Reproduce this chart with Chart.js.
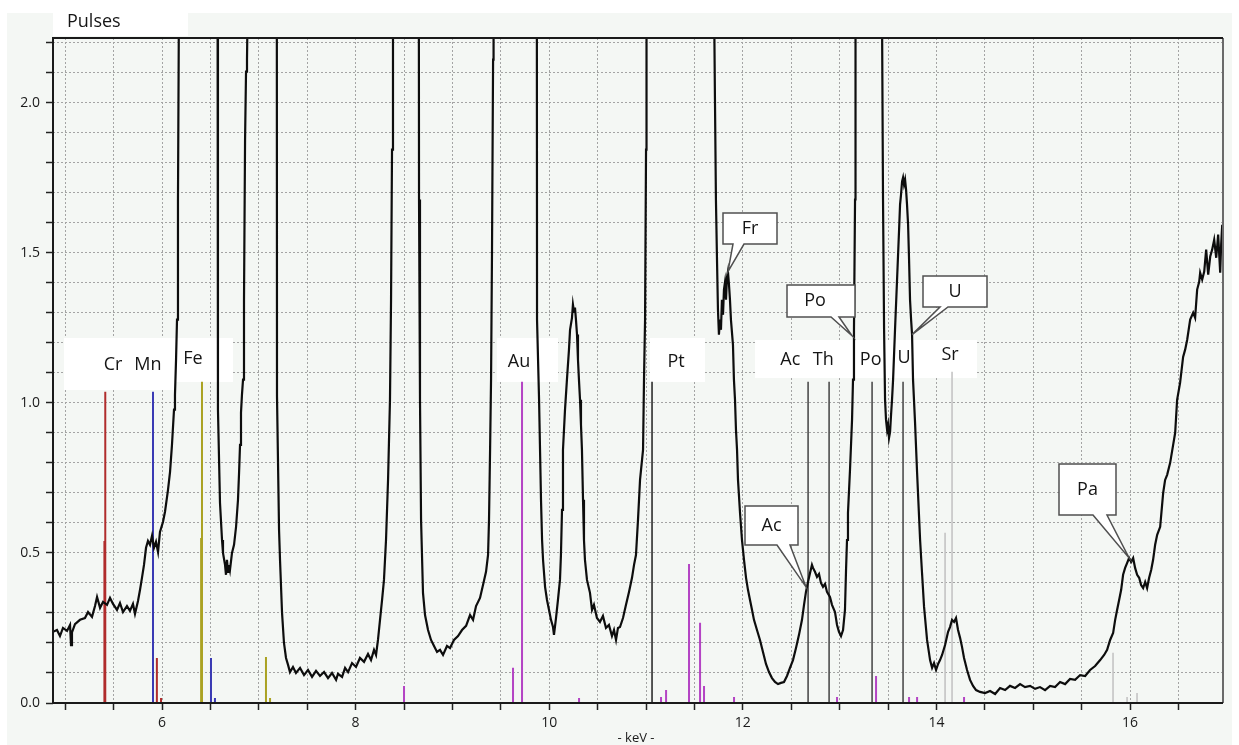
<!DOCTYPE html>
<html>
<head>
<meta charset="utf-8">
<script src="https://cdn.jsdelivr.net/npm/chart.js@4.4.1/dist/chart.umd.min.js"></script>
<style>
html,body{margin:0;padding:0;background:#fff;}
#wrap{width:1239px;height:745px;}
</style>
</head>
<body>
<div id="wrap"><canvas id="c" width="1239" height="745"></canvas></div>
<script>
// ---------- DATA ----------
const spectrumKeV = [4.874,4.915,4.946,4.977,5.019,5.050,5.060,5.070,5.101,5.153,5.204,5.236,5.277,5.308,5.329,5.360,5.391,5.432,5.463,5.494,5.535,5.566,5.597,5.638,5.669,5.700,5.721,5.752,5.773,5.793,5.814,5.835,5.855,5.876,5.897,5.917,5.938,5.959,5.979,6.010,6.031,6.062,6.083,6.103,6.124,6.134,6.145,6.155,6.165,6.176,6.40,6.574,6.578,6.599,6.620,6.630,6.651,6.661,6.671,6.682,6.692,6.702,6.723,6.744,6.765,6.785,6.796,6.806,6.816,6.826,6.837,6.847,6.858,6.868,6.878,6.888,7.06,7.186,7.188,7.209,7.219,7.240,7.260,7.281,7.302,7.322,7.353,7.384,7.426,7.467,7.508,7.550,7.591,7.632,7.674,7.715,7.756,7.798,7.818,7.860,7.891,7.922,7.963,8.004,8.045,8.087,8.128,8.159,8.190,8.211,8.231,8.252,8.273,8.293,8.314,8.335,8.355,8.366,8.376,8.386,8.52,8.653,8.655,8.665,8.676,8.696,8.717,8.748,8.779,8.810,8.841,8.872,8.903,8.944,8.975,9.016,9.058,9.099,9.141,9.182,9.213,9.244,9.285,9.316,9.347,9.368,9.378,9.389,9.399,9.409,9.420,9.425,9.70,9.872,9.874,9.895,9.905,9.915,9.926,9.936,9.957,9.977,9.998,10.018,10.039,10.049,10.070,10.090,10.111,10.121,10.132,10.142,10.163,10.183,10.204,10.215,10.235,10.245,10.256,10.266,10.276,10.287,10.297,10.307,10.318,10.328,10.338,10.349,10.359,10.369,10.390,10.421,10.442,10.462,10.493,10.524,10.555,10.586,10.617,10.648,10.669,10.690,10.710,10.731,10.762,10.793,10.824,10.855,10.876,10.896,10.917,10.938,10.969,10.979,10.990,11.000,11.005,11.35,11.701,11.712,11.722,11.733,11.743,11.753,11.764,11.774,11.784,11.795,11.805,11.815,11.826,11.836,11.846,11.857,11.867,11.877,11.898,11.908,11.919,11.929,11.940,11.950,11.971,11.991,12.012,12.033,12.053,12.074,12.095,12.115,12.146,12.177,12.208,12.239,12.270,12.301,12.332,12.363,12.394,12.425,12.456,12.487,12.518,12.549,12.580,12.611,12.632,12.652,12.673,12.694,12.714,12.725,12.745,12.766,12.787,12.807,12.828,12.849,12.869,12.900,12.921,12.952,12.973,12.993,13.014,13.035,13.055,13.066,13.076,13.086,13.107,13.128,13.138,13.148,13.159,13.164,13.30,13.436,13.448,13.459,13.469,13.479,13.490,13.500,13.510,13.521,13.531,13.541,13.552,13.572,13.593,13.614,13.624,13.634,13.645,13.655,13.665,13.676,13.686,13.696,13.707,13.717,13.727,13.738,13.748,13.758,13.779,13.800,13.831,13.851,13.872,13.903,13.934,13.955,13.975,13.996,14.017,14.037,14.058,14.089,14.120,14.140,14.161,14.182,14.202,14.223,14.244,14.264,14.285,14.316,14.347,14.378,14.409,14.450,14.502,14.554,14.606,14.657,14.709,14.760,14.812,14.864,14.915,14.967,15.019,15.070,15.122,15.174,15.225,15.277,15.329,15.380,15.432,15.484,15.536,15.587,15.639,15.691,15.732,15.763,15.794,15.825,15.846,15.866,15.887,15.908,15.928,15.949,15.970,15.990,16.011,16.032,16.052,16.073,16.094,16.114,16.135,16.156,16.176,16.197,16.218,16.238,16.259,16.280,16.311,16.342,16.362,16.383,16.414,16.445,16.466,16.486,16.517,16.548,16.569,16.590,16.621,16.652,16.672,16.693,16.714,16.724,16.745,16.766,16.786,16.807,16.828,16.848,16.869,16.890,16.910,16.931,16.941,16.952];
const spectrumPulses = [0.237,0.243,0.223,0.25,0.24,0.26,0.193,0.235,0.263,0.277,0.283,0.303,0.287,0.323,0.353,0.317,0.337,0.327,0.35,0.33,0.31,0.333,0.303,0.323,0.307,0.33,0.297,0.34,0.377,0.417,0.46,0.517,0.54,0.527,0.557,0.517,0.537,0.503,0.57,0.603,0.637,0.71,0.77,0.86,0.977,1.027,1.143,1.277,1.677,2.4,5.0,2.4,0.977,0.667,0.543,0.5,0.46,0.427,0.477,0.437,0.46,0.443,0.5,0.527,0.587,0.677,0.767,0.86,0.967,1.027,1.077,1.343,1.877,2.103,2.143,2.4,5.0,2.4,1.02,0.577,0.477,0.30,0.20,0.15,0.127,0.103,0.12,0.10,0.117,0.093,0.11,0.087,0.107,0.09,0.103,0.083,0.10,0.077,0.097,0.087,0.117,0.103,0.133,0.12,0.15,0.137,0.163,0.143,0.177,0.16,0.21,0.277,0.343,0.41,0.543,0.743,1.01,1.343,1.843,2.4,5.0,2.4,1.677,1.01,0.61,0.367,0.293,0.243,0.21,0.19,0.17,0.177,0.16,0.19,0.183,0.21,0.223,0.243,0.257,0.293,0.277,0.323,0.35,0.393,0.437,0.493,0.61,0.843,1.077,1.51,2.143,2.4,6.0,2.4,1.277,1.01,0.843,0.677,0.543,0.477,0.387,0.343,0.31,0.277,0.253,0.227,0.283,0.343,0.41,0.493,0.643,0.843,0.977,1.077,1.177,1.243,1.283,1.327,1.303,1.317,1.277,1.227,1.143,1.077,1.01,0.927,0.843,0.677,0.543,0.477,0.41,0.367,0.31,0.327,0.283,0.27,0.29,0.25,0.26,0.223,0.243,0.21,0.25,0.253,0.283,0.327,0.37,0.417,0.46,0.493,0.61,0.743,0.843,1.077,1.277,1.843,2.4,5.0,2.4,2.01,1.677,1.477,1.31,1.227,1.277,1.243,1.343,1.293,1.377,1.40,1.343,1.417,1.437,1.393,1.343,1.277,1.193,1.077,1.01,0.91,0.843,0.743,0.633,0.543,0.477,0.417,0.377,0.343,0.31,0.277,0.243,0.21,0.17,0.13,0.103,0.083,0.07,0.063,0.067,0.07,0.09,0.117,0.143,0.183,0.227,0.277,0.327,0.37,0.403,0.433,0.46,0.45,0.437,0.42,0.43,0.40,0.387,0.397,0.37,0.353,0.327,0.303,0.26,0.237,0.223,0.243,0.31,0.443,0.543,0.633,0.777,0.943,1.077,1.243,1.677,2.4,5.0,2.4,1.677,1.243,1.01,0.943,0.91,0.927,0.883,0.903,0.96,1.01,1.077,1.243,1.41,1.577,1.66,1.693,1.737,1.75,1.727,1.743,1.71,1.66,1.593,1.477,1.343,1.277,1.227,1.077,0.933,0.767,0.543,0.433,0.32,0.21,0.143,0.117,0.133,0.11,0.13,0.143,0.16,0.193,0.237,0.253,0.277,0.27,0.283,0.243,0.217,0.187,0.15,0.11,0.077,0.057,0.043,0.037,0.033,0.04,0.03,0.05,0.043,0.057,0.05,0.063,0.053,0.057,0.047,0.053,0.043,0.057,0.053,0.07,0.063,0.08,0.077,0.093,0.09,0.11,0.123,0.143,0.16,0.177,0.21,0.233,0.277,0.31,0.343,0.377,0.427,0.45,0.467,0.483,0.47,0.483,0.45,0.427,0.417,0.393,0.383,0.403,0.383,0.417,0.443,0.477,0.527,0.56,0.587,0.70,0.743,0.76,0.80,0.86,0.90,1.01,1.067,1.153,1.177,1.21,1.277,1.30,1.283,1.377,1.403,1.433,1.41,1.437,1.51,1.427,1.487,1.51,1.543,1.483,1.56,1.433,1.527,1.593];

// element line markers (keV, relative intensity on the Pulses scale)
const crKeV = [5.405, 5.414, 5.947, 5.990];
const crPulses = [0.54, 1.037, 0.15, 0.017];
const mnKeV = [5.907, 6.506, 6.547];
const mnPulses = [1.037, 0.15, 0.017];
const feKeV = [6.404, 6.413, 7.074, 7.116];
const fePulses = [0.55, 1.07, 0.153, 0.017];
const auKeV = [8.50, 9.626, 9.719, 10.308, 11.155, 11.207, 11.444, 11.558, 11.599, 11.909, 12.973, 13.376, 13.717, 13.80, 14.285];
const auPulses = [0.057, 0.117, 1.07, 0.017, 0.02, 0.043, 0.463, 0.267, 0.057, 0.02, 0.02, 0.09, 0.02, 0.02, 0.02];
const ptKeV = [11.062];
const ptPulses = [1.07];
const heavyKeV = [12.674, 12.891, 13.335, 13.655];   // Ac, Th, Po, U
const heavyPulses = [1.07, 1.07, 1.07, 1.07];
const srKeV = [14.089, 14.161, 15.824, 15.969, 16.072];
const srPulses = [0.567, 1.103, 0.167, 0.02, 0.033];

// axis
const xMin = 4.874, xMax = 16.96, xStep = 0.5;
const yMin = 0, yMax = 2.215, yStep = 0.1;
const xLabelTicks = [6, 8, 10, 12, 14, 16];
const yLabelTicks = [0.0, 0.5, 1.0, 1.5, 2.0];

// labels
const elementLabels = [
  {t:'Cr', k:5.494, p:1.127}, {t:'Mn', k:5.855, p:1.127}, {t:'Fe', k:6.320, p:1.147},
  {t:'Au', k:9.688, p:1.137}, {t:'Pt', k:11.31, p:1.137},
  {t:'Ac', k:12.49, p:1.143}, {t:'Th', k:12.83, p:1.143}, {t:'Po', k:13.32, p:1.143},
  {t:'U', k:13.665, p:1.15}, {t:'Sr', k:14.14, p:1.16}
];
const callouts = [
  {t:'Fr', k:11.846, p:1.437},
  {t:'Po', k:13.128, p:1.223},
  {t:'U',  k:13.748, p:1.227},
  {t:'Ac', k:12.652, p:0.387},
  {t:'Pa', k:15.990, p:0.483}
];

// ---------- BUILD ----------
const spectrum = spectrumKeV.map((k, i) => ({x: k, y: spectrumPulses[i]}));
function stems(keV, pulses) {
  const d = [];
  keV.forEach((k, i) => { d.push({x: k, y: 0}, {x: k, y: pulses[i]}, {x: k, y: null}); });
  return d;
}
function stemSet(keV, pulses, color, width) {
  return {data: stems(keV, pulses), borderColor: color, borderWidth: width, pointRadius: 0,
          spanGaps: false, fill: false, tension: 0, order: 2};
}

const FONT = '"Open Sans", "DejaVu Sans", sans-serif';

const decor = {
  id: 'decor',
  beforeDraw(chart) {
    const c = chart.ctx;
    c.save();
    c.fillStyle = '#ffffff';
    c.fillRect(0, 0, chart.width, chart.height);
    c.fillStyle = '#f4f7f4';
    c.fillRect(7, 13, 1225, 732);
    c.fillStyle = '#ffffff';
    c.fillRect(53, 13, 135, 23);
    c.fillStyle = '#151515';
    c.font = '18px ' + FONT;
    c.textBaseline = 'alphabetic';
    c.textAlign = 'left';
    c.fillText('Pulses', 67, 27);
    c.restore();
  },
  beforeDatasetsDraw(chart) {
    const c = chart.ctx;
    c.save();
    c.fillStyle = '#ffffff';
    c.fillRect(64, 338, 112, 52);
    c.fillRect(176, 338, 57, 44);
    c.fillRect(497, 338, 61, 44);
    c.fillRect(650, 338, 55, 44);
    c.fillRect(755, 340, 222, 38);
    const xs = chart.scales.x, ys = chart.scales.y;
    c.fillStyle = '#151515';
    c.font = '18px ' + FONT;
    c.textAlign = 'center';
    c.textBaseline = 'middle';
    elementLabels.forEach(l => c.fillText(l.t, xs.getPixelForValue(l.k), ys.getPixelForValue(l.p)));
    c.restore();
  },
  afterDatasetsDraw(chart) {
    const c = chart.ctx;
    const a = chart.chartArea;
    const xs = chart.scales.x, ys = chart.scales.y;
    c.save();
    // frame
    c.lineWidth = 2;
    c.strokeStyle = '#6a6a6a';
    c.beginPath(); c.moveTo(a.right, a.top); c.lineTo(a.right, a.bottom); c.stroke();
    c.strokeStyle = '#1a1a1a';
    c.beginPath(); c.moveTo(a.left, a.bottom); c.lineTo(a.left, a.top); c.lineTo(a.right, a.top); c.stroke();
    c.beginPath(); c.moveTo(a.left, a.bottom); c.lineTo(a.right, a.bottom); c.stroke();
    // callouts: box geometry relative to the pointed spectrum location
    const boxes = [
      {x0:723, y0:213, x1:777, y1:244, b0:733, b1:744},
      {x0:787, y0:285, x1:855, y1:317, b0:831, b1:839},
      {x0:923, y0:276, x1:987, y1:307, b0:940, b1:948},
      {x0:745, y0:506, x1:798, y1:545, b0:777, b1:790},
      {x0:1059, y0:464, x1:1116, y1:515, b0:1093, b1:1107}
    ];
    callouts.forEach((co, i) => {
      const b = boxes[i];
      const tx = xs.getPixelForValue(co.k), ty = ys.getPixelForValue(co.p);
      c.beginPath();
      c.moveTo(b.x0, b.y0); c.lineTo(b.x1, b.y0); c.lineTo(b.x1, b.y1);
      c.lineTo(b.b1, b.y1); c.lineTo(tx, ty); c.lineTo(b.b0, b.y1);
      c.lineTo(b.x0, b.y1); c.closePath();
      c.fillStyle = '#ffffff'; c.fill();
      c.lineWidth = 1.5; c.strokeStyle = '#505050'; c.stroke();
      c.fillStyle = '#151515';
      c.font = '18px ' + FONT;
      c.textAlign = 'center'; c.textBaseline = 'middle';
      c.fillText(co.t, (b.x0 + b.x1) / 2 - (i === 1 ? 6 : 0), (b.y0 + b.y1) / 2);
    });
    // x axis title
    c.fillStyle = '#1a1a1a';
    c.font = '13px ' + FONT;
    c.textAlign = 'center'; c.textBaseline = 'middle';
    c.fillText('- keV -', 636, 738);
    c.restore();
  }
};

function isIn(list, v) { return list.some(t => Math.abs(t - v) < 1e-6); }

function start() {
  new Chart(document.getElementById('c'), {
    type: 'line',
    data: {
      datasets: [
        {data: spectrum, borderColor: '#0d0d0d', borderWidth: 2.2, pointRadius: 0, tension: 0, fill: false, order: 0},
        stemSet(crKeV, crPulses, '#b02c2c', 2),
        stemSet(mnKeV, mnPulses, '#3a3ab4', 2),
        stemSet(feKeV, fePulses, '#aaa222', 2),
        stemSet(auKeV, auPulses, '#b444c4', 2),
        stemSet(ptKeV, ptPulses, '#2e2e2e', 1.6),
        stemSet(heavyKeV, heavyPulses, '#4e4e4e', 1.6),
        stemSet(srKeV, srPulses, '#c4c4c4', 1.6)
      ]
    },
    options: {
      responsive: false,
      animation: false,
      devicePixelRatio: 1,
      events: [],
      layout: {padding: {left: 0, top: 38, right: 16, bottom: 0}},
      plugins: {legend: {display: false}, tooltip: {enabled: false}, title: {display: false}},
      scales: {
        x: {
          type: 'linear', min: xMin, max: xMax,
          afterFit(s) { s.height = 42; },
          border: {display: false, dash: [2, 2]},
          grid: {color: '#a4a4a4', lineWidth: 1, drawTicks: true, tickLength: 7, tickColor: '#222', tickWidth: 1.5, tickBorderDash: []},
          ticks: {
            stepSize: xStep, includeBounds: false, autoSkip: false, maxRotation: 0, padding: 5,
            color: '#1a1a1a', font: {family: FONT, size: 14},
            callback: v => isIn(xLabelTicks, v) ? String(Math.round(v)) : ''
          }
        },
        y: {
          type: 'linear', min: yMin, max: yMax,
          afterFit(s) { s.width = 53; },
          border: {display: false, dash: [2, 2]},
          grid: {color: '#a4a4a4', lineWidth: 1, drawTicks: true, tickLength: 7, tickColor: '#222', tickWidth: 1.5, tickBorderDash: []},
          ticks: {
            stepSize: yStep, includeBounds: false, autoSkip: false, padding: 6,
            color: '#1a1a1a', font: {family: FONT, size: 14},
            callback: v => isIn(yLabelTicks, v) ? v.toFixed(1) : ''
          }
        }
      }
    },
    plugins: [decor]
  });
}

if (document.fonts && document.fonts.load) {
  Promise.all([document.fonts.load('18px "Open Sans"'), document.fonts.load('14px "Open Sans"')]).then(start, start);
} else { start(); }
</script>
</body>
</html>
